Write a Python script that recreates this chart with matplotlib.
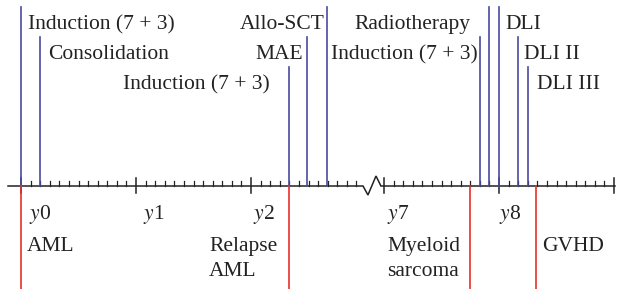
import numpy as np
import matplotlib
matplotlib.use("Agg")
import matplotlib.pyplot as plt

# treatment events (above the axis), time in years from diagnosis
treat_labels = ["Induction (7 + 3)", "Consolidation", "Induction (7 + 3)", "MAE", "Allo-SCT",
                "Induction (7 + 3)", "Radiotherapy", "DLI", "DLI II", "DLI III"]
treat_times = [0.0, 0.165, 2.33, 2.487, 2.66, 7.835, 7.913, 8.0, 8.165, 8.252]
treat_level = [1, 2, 3, 2, 1, 2, 1, 1, 2, 3]

# diagnoses (below the axis)
diag_labels = ["AML", "Relapse\nAML", "Myeloid\nsarcoma", "GVHD"]
diag_times = [0.0, 2.33, 7.748, 8.322]

year_ticks = [0, 1, 2, 7, 8, 9]
year_labels = ["y0", "y1", "y2", "y7", "y8", ""]

# layout (pixel offsets for labels)
treat_side = ["l", "l", "r", "r", "r", "r", "r", "l", "l", "l"]
treat_dx = [7, 8, -19, -4, -2, -2, -19, 6, 6, 9]
diag_dx = [6, -80, -83, 6]  # left edge of the label block
tick_dx = [8, 7, 2, 3, 0, 0]

BLUE = "#4a4aa0"
RED = "#e8302a"
INK = "#222222"
FONT = "Liberation Serif"
FS = 15.5
LINE_GAP = 25  # pixels between label lines

BREAK = 3.157  # display position of year 7


def pos(t):
    t = np.asarray(t, dtype=float)
    return np.where(t < 3, t, t - 7 + BREAK)


fig = plt.figure(figsize=(6.21, 2.89), dpi=100)
ax = fig.add_axes([0, 0, 1, 1])
ax.set_xlim(-21 / 115, 600 / 115)
ax.set_ylim(-103, 186)
ax.axis("off")

level_h = {1: 179, 2: 149, 3: 119}

# axis with break
z0 = (363 - 21) / 115
ax.plot([-0.113, z0, z0 + 0.043, z0 + 0.113, z0 + 0.156, 5.165],
        [0, 0, -9, 10, 0, 0], color=INK, lw=1.1, solid_joinstyle="miter")

# minor ticks (monthly)
months = [m / 12 for m in range(0, 36) if m % 12 != 0 and m / 12 < 2.95]
months += [7 + m / 12 for m in range(0, 24) if m % 12 != 0]
for m in months:
    p = pos(m)
    ax.plot([p, p], [0, 5], color=INK, lw=0.9)
for t, lab, dx in zip(year_ticks, year_labels, tick_dx):
    p = pos(t)
    ax.plot([p, p], [-7, 8], color=INK, lw=1.1)
    ax.annotate(lab.replace("y", "$y$"), (p, -33), xytext=(dx, 0), textcoords="offset pixels",
                ha="left", va="baseline", fontsize=FS, family=FONT, color=INK,
                math_fontfamily="stix")

# treatments
for lab, t, lv, side, dx in zip(treat_labels, treat_times, treat_level, treat_side, treat_dx):
    p = pos(t)
    h = level_h[lv]
    ax.plot([p, p], [0, h], color=BLUE, lw=1.2)
    ax.annotate(lab, (p, h - 22), xytext=(dx, 0), textcoords="offset pixels",
                ha="left" if side == "l" else "right", va="baseline",
                fontsize=FS, family=FONT, color=INK)

# diagnoses, one text per line so the lines keep the reference spacing
for lab, t, dx in zip(diag_labels, diag_times, diag_dx):
    p = pos(t)
    ax.plot([p, p], [0, -103], color=RED, lw=1.2)
    for i, s in enumerate(lab.split("\n")):
        ax.annotate(s, (p, -65 - i * LINE_GAP), xytext=(dx, 0), textcoords="offset pixels",
                    ha="left", va="baseline", fontsize=FS, family=FONT, color=INK)

fig.savefig("out.png", dpi=100)
